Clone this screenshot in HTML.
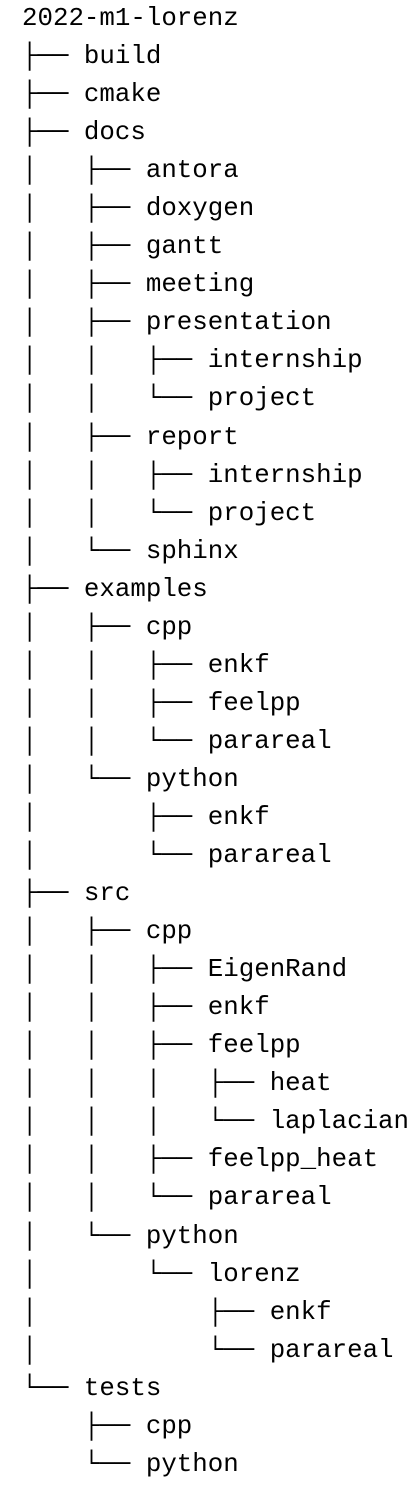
<!DOCTYPE html>
<html><head><meta charset="utf-8"><style>
html,body{margin:0;padding:0;background:#fff;width:415px;height:1488px;overflow:hidden}
pre{margin:0;position:absolute;left:22px;top:0px;font-family:"Liberation Mono","DejaVu Sans Mono",monospace;font-size:25.8px;line-height:38.05px;color:#000}
</style></head><body><pre>2022-m1-lorenz
├── build
├── cmake
├── docs
│   ├── antora
│   ├── doxygen
│   ├── gantt
│   ├── meeting
│   ├── presentation
│   │   ├── internship
│   │   └── project
│   ├── report
│   │   ├── internship
│   │   └── project
│   └── sphinx
├── examples
│   ├── cpp
│   │   ├── enkf
│   │   ├── feelpp
│   │   └── parareal
│   └── python
│       ├── enkf
│       └── parareal
├── src
│   ├── cpp
│   │   ├── EigenRand
│   │   ├── enkf
│   │   ├── feelpp
│   │   │   ├── heat
│   │   │   └── laplacian
│   │   ├── feelpp_heat
│   │   └── parareal
│   └── python
│       └── lorenz
│           ├── enkf
│           └── parareal
└── tests
    ├── cpp
    └── python</pre></body></html>
